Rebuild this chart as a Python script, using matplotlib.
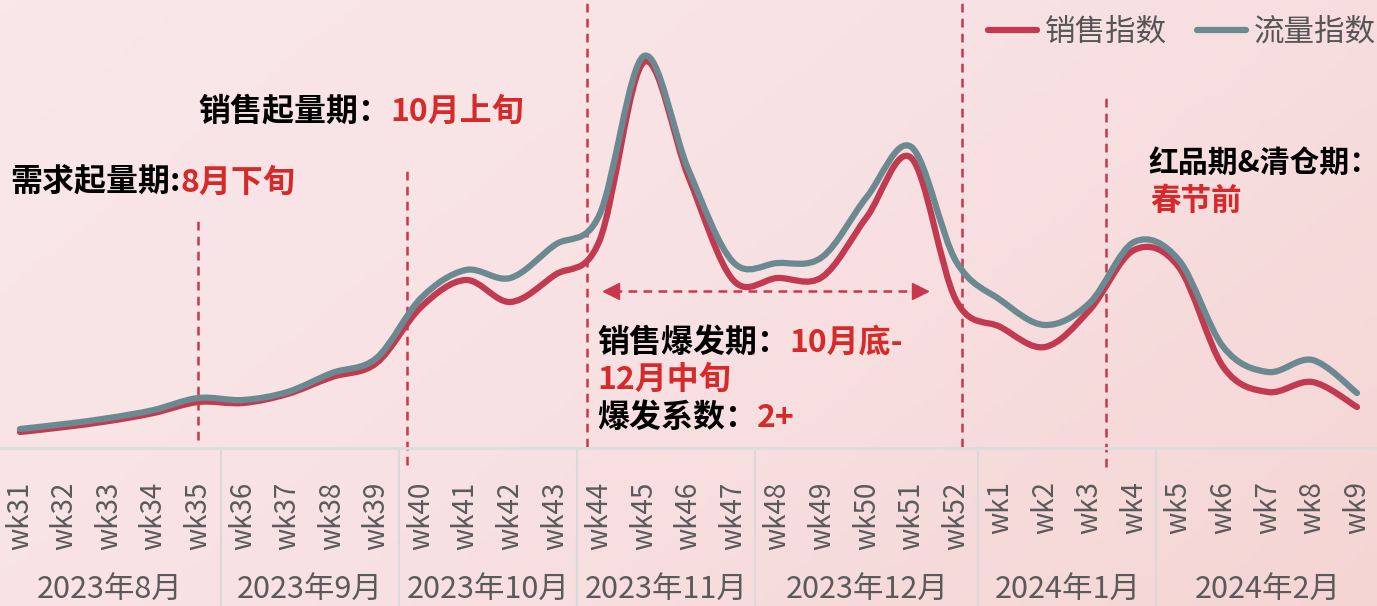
import numpy as np
import matplotlib.pyplot as plt
from matplotlib.path import Path
from matplotlib.patches import PathPatch
from matplotlib.lines import Line2D
from matplotlib.colors import LinearSegmentedColormap

plt.rcParams['font.family'] = ['Noto Sans CJK SC', 'DejaVu Sans']

weeks = ['wk31', 'wk32', 'wk33', 'wk34', 'wk35', 'wk36', 'wk37', 'wk38', 'wk39',
         'wk40', 'wk41', 'wk42', 'wk43', 'wk44', 'wk45', 'wk46', 'wk47',
         'wk48', 'wk49', 'wk50', 'wk51', 'wk52',
         'wk1', 'wk2', 'wk3', 'wk4', 'wk5', 'wk6', 'wk7', 'wk8', 'wk9']
sales = [16, 21, 27, 35, 46, 45, 54, 71, 85, 141, 168, 146, 173, 207, 386, 271, 168,
         170, 171, 231, 290, 148, 121, 101, 138, 198, 181, 81, 56, 66, 41]
traffic = [19, 24, 30, 38, 50, 48, 56, 75, 90, 150, 178, 170, 203, 233, 392, 278, 186,
           185, 191, 251, 301, 187, 148, 123, 145, 206, 188, 101, 76, 88, 55]
months = ['2023年8月', '2023年9月', '2023年10月', '2023年11月', '2023年12月', '2024年1月', '2024年2月']
month_weeks = [5, 4, 4, 4, 5, 4, 5]

RED = '#c13a4f'
GREY = '#6b8990'
TXT_RED = '#d62a2a'
DASH = '#c8374d'

W, H = 1377, 606
fig = plt.figure(figsize=(W / 100, H / 100), dpi=100)

# pink background
bg = fig.add_axes([0, 0, 1, 1], zorder=-5)
bg.axis('off')
gx, gy = np.meshgrid(np.linspace(0, 1, 200), np.linspace(0, 1, 100))
grad = 0.65 * gx + 0.35 * gy
cmap = LinearSegmentedColormap.from_list('bgpink', ['#f9e7e9', '#f8e1e3', '#f5d5d4'])
bg.imshow(grad, cmap=cmap, aspect='auto', extent=[0, 1, 0, 1], origin='upper')
bg.set_xlim(0, 1)
bg.set_ylim(0, 1)

ax = fig.add_axes([0, 158 / H, 1, 448 / H])
ax.set_facecolor('none')
x = np.arange(len(weeks))
ax.set_xlim(-0.449, len(weeks) - 1 + 0.449)
ax.set_ylim(0, 448)


def smooth_path(xs, ys):
    pts = np.column_stack([xs, ys]).astype(float)
    ext = np.vstack([pts[0], pts, pts[-1]])
    verts = [pts[0]]
    codes = [Path.MOVETO]
    for i in range(1, len(ext) - 2):
        p0, p1, p2, p3 = ext[i - 1], ext[i], ext[i + 1], ext[i + 2]
        verts += [p1 + (p2 - p0) / 6, p2 - (p3 - p1) / 6, p2]
        codes += [Path.CURVE4] * 3
    return Path(verts, codes)


ax.add_patch(PathPatch(smooth_path(x, sales), fill=False, edgecolor=RED, lw=4.5,
                       capstyle='round', joinstyle='round', zorder=3))
ax.add_patch(PathPatch(smooth_path(x, traffic), fill=False, edgecolor=GREY, lw=4.5,
                       capstyle='round', joinstyle='round', zorder=4))

for s in ['top', 'left', 'right']:
    ax.spines[s].set_visible(False)
ax.spines['bottom'].set_color('#dcdcdc')
ax.spines['bottom'].set_linewidth(2)
ax.set_yticks([])
ax.set_xticks(x)
ax.set_xticklabels(weeks, rotation=90, fontsize=20, color='#5a5a5a')
ax.tick_params(axis='x', length=0, pad=24)

# month groups
start = 0
for i, (m, n) in enumerate(zip(months, month_weeks)):
    ax.text(start + (n - 1) / 2, -141, m, ha='center', va='center', fontsize=22, color='#5a5a5a')
    if i < len(months) - 1:
        ax.plot([start + n - 0.5] * 2, [0, -160], color='#d9d9d9', lw=1.5, clip_on=False)
    start += n

# dashed phase lines
phase_lines = [(4.0, 8, 233), (8.68, -17, 278), (12.72, 1, 448), (21.13, 1, 448), (24.37, -19, 351)]
for px_, y0, y1 in phase_lines:
    ax.plot([px_, px_], [y0, y1], color=DASH, lw=1.8, ls=(0, (3.5, 2.5)), clip_on=False, zorder=2)

# burst period arrow
ax.plot([13.3, 20.15], [157, 157], color=DASH, lw=1.8, ls=(0, (3.5, 2.5)), zorder=2)
ax.plot([13.25], [157], marker='<', color=DASH, ms=12, zorder=2)
ax.plot([20.2], [157], marker='>', color=DASH, ms=12, zorder=2)

# legend
handles = [Line2D([], [], color=RED, lw=4.5, solid_capstyle='round'),
           Line2D([], [], color=GREY, lw=4.5, solid_capstyle='round')]
fig.legend(handles, ['销售指数', '流量指数'], loc='center right',
           bbox_to_anchor=(1.0 + 26 / W, 1 - 32 / H), ncol=2, frameon=False, fontsize=22,
           labelcolor='#555555', handlelength=1.6, handletextpad=0.25, columnspacing=1.0)


def px(xp, yp):
    return xp / W, 1 - yp / H


def label(xp, yp, black, red=None, size=23):
    t = fig.text(*px(xp, yp), black, fontsize=size, fontweight='bold', color='black',
                 ha='left', va='center')
    if red:
        ax.annotate(red, xy=(1, 0), xycoords=t, ha='left', va='bottom', fontsize=size,
                    fontweight='bold', color=TXT_RED, annotation_clip=False)
    return t


label(10, 183, '需求起量期:', '8月下旬')
label(198, 112, '销售起量期：', '10月上旬')
label(597, 343, '销售爆发期：', '10月底-')
fig.text(*px(597, 380), '12月中旬', fontsize=23, fontweight='bold', color=TXT_RED, ha='left', va='center')
label(597, 418, '爆发系数：', '2+')
label(1148, 163, '红品期&清仓期：', size=21.5)
fig.text(*px(1150, 201), '春节前', fontsize=22, fontweight='bold', color=TXT_RED, ha='left', va='center')

fig.savefig('out.png', dpi=100)
